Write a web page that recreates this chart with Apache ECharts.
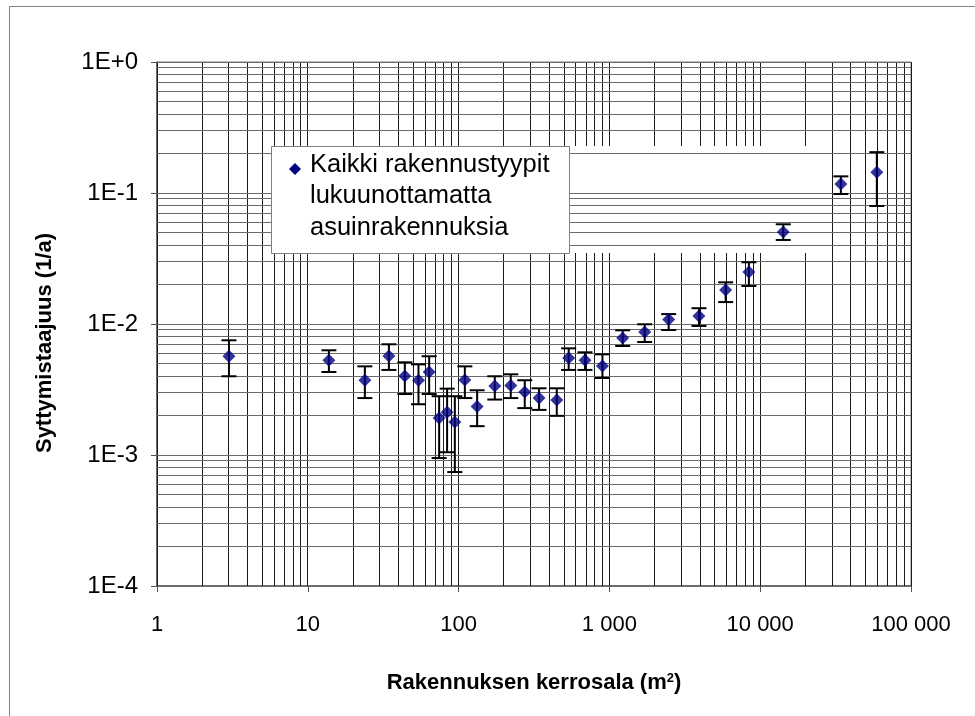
<!DOCTYPE html>
<html><head><meta charset="utf-8">
<script src="https://cdn.jsdelivr.net/npm/echarts@6/dist/echarts.min.js"></script>
<style>html,body{margin:0;padding:0;background:#fff}#c{width:975px;height:716px}</style>
</head><body><div id="c"></div>
<script>
// Floor area (m2) of each class
const areas = [3.0, 13.8, 23.9, 34.5, 44.0, 54.2, 63.8, 74.3, 83.9, 94.4, 110, 132.7, 173.8, 221.8, 274.6, 341.6, 447.7, 537, 689, 899, 1225, 1714, 2472, 3926, 5900, 8413, 14220, 34270, 59340];
// Ignition frequency (1/a)
const freq = [5.67e-3, 5.28e-3, 3.72e-3, 5.70e-3, 4.01e-3, 3.72e-3, 4.30e-3, 1.92e-3, 2.12e-3, 1.79e-3, 3.74e-3, 2.35e-3, 3.36e-3, 3.39e-3, 3.03e-3, 2.72e-3, 2.63e-3, 5.50e-3, 5.28e-3, 4.78e-3, 7.82e-3, 8.69e-3, 1.08e-2, 1.15e-2, 1.82e-2, 2.49e-2, 5.04e-2, 0.117, 0.144];
const freqHigh = [7.51e-3, 6.30e-3, 4.75e-3, 7.0e-3, 5.10e-3, 4.92e-3, 5.67e-3, 2.81e-3, 3.21e-3, 2.81e-3, 4.75e-3, 3.12e-3, 3.99e-3, 4.13e-3, 3.72e-3, 3.23e-3, 3.23e-3, 6.52e-3, 6.08e-3, 5.87e-3, 8.95e-3, 9.95e-3, 1.19e-2, 1.32e-2, 2.08e-2, 2.96e-2, 5.77e-2, 0.134, 0.205];
const freqLow = [3.99e-3, 4.30e-3, 2.72e-3, 4.46e-3, 2.92e-3, 2.44e-3, 2.92e-3, 9.48e-4, 1.05e-3, 7.41e-4, 2.72e-3, 1.66e-3, 2.65e-3, 2.72e-3, 2.28e-3, 2.21e-3, 1.99e-3, 4.46e-3, 4.46e-3, 3.87e-3, 6.79e-3, 7.29e-3, 9.0e-3, 9.66e-3, 1.47e-2, 1.95e-2, 4.38e-2, 9.83e-2, 7.96e-2];

const xTickLabels = ['1', '10', '100', '1 000', '10 000', '100 000'];
const yTickLabels = ['1E-4', '1E-3', '1E-2', '1E-1', '1E+0'];
const seriesName = 'Kaikki rakennustyypit\nlukuunottamatta\nasuinrakennuksia';
const xTitle = 'Rakennuksen kerrosala (m{sup|2})';
const yTitle = 'Syttymistaajuus (1/a)';

const mantissas = [1, 2, 3, 4, 5, 6, 7, 8, 9];
function logGrid(minExp, maxExp) {
  const out = [];
  for (let e = minExp; e < maxExp; e++) {
    mantissas.forEach(m => out.push(m * Math.pow(10, e)));
  }
  out.push(Math.pow(10, maxExp));
  return out;
}
const xGrid = logGrid(0, 5);
const yGrid = logGrid(-4, 0);

const FONT = '"Liberation Sans", Arial, sans-serif';
const chart = echarts.init(document.getElementById('c'));

const crisp = v => Math.round(v - 0.5) + 0.5;

chart.setOption({
  animation: false,
  backgroundColor: '#fff',
  grid: { left: 157, right: 64, top: 62, bottom: 130, show: true, borderColor: '#808080', borderWidth: 1 },
  xAxis: {
    type: 'log', logBase: 10, min: 1, max: 100000,
    splitLine: { show: false },
    axisLine: { lineStyle: { color: '#505050', width: 1.5 } },
    axisTick: { length: 6, lineStyle: { color: '#505050' } },
    axisLabel: {
      margin: 28, fontSize: 22, color: '#000', fontFamily: FONT,
      formatter: v => xTickLabels[Math.round(Math.log10(v))]
    },
    name: xTitle, nameLocation: 'middle', nameGap: 86,
    nameTextStyle: {
      fontSize: 22, fontWeight: 'bold', color: '#000', fontFamily: FONT,
      rich: { sup: { fontSize: 13, fontWeight: 'bold', verticalAlign: 'top', padding: [0, 0, 6, 0], fontFamily: FONT, color: '#000' } }
    }
  },
  yAxis: {
    type: 'log', logBase: 10, min: 0.0001, max: 1,
    splitLine: { show: false },
    axisLine: { lineStyle: { color: '#505050', width: 1.5 } },
    axisTick: { length: 6, lineStyle: { color: '#505050' } },
    axisLabel: {
      margin: 19, fontSize: 24, color: '#000', fontFamily: FONT,
      formatter: v => yTickLabels[Math.round(Math.log10(v)) + 4]
    }
  },
  graphic: [
    { type: 'rect', z: 0, silent: true, shape: { x: 9.5, y: 6.5, width: 1000, height: 800 }, style: { fill: 'none', stroke: '#808080', lineWidth: 1 } },
    { type: 'rect', z: 2, silent: true, shape: { x: 271, y: 146, width: 545, height: 107 }, style: { fill: '#fff' } },
    { type: 'rect', z: 4, silent: true, shape: { x: 271.5, y: 146.5, width: 298, height: 107 }, style: { fill: '#fff', stroke: '#808080', lineWidth: 1 } },
    { type: 'polygon', z: 5, silent: true, shape: { points: [[295, 163], [301, 169], [295, 175], [289, 169]] }, style: { fill: '#000080' } },
    { type: 'text', z: 5, silent: true, x: 310, y: 149, style: { text: seriesName, font: '25.5px ' + FONT, lineHeight: 31.5, fill: '#000' } },
    { type: 'text', z: 5, silent: true, x: 45, y: 343, rotation: Math.PI / 2, style: { text: yTitle, font: 'bold 22px ' + FONT, fill: '#000', align: 'center', verticalAlign: 'middle' } }
  ],
  series: [
    {
      type: 'custom', z: 1, silent: true,
      data: xGrid.map(v => [v, 0.0001]),
      renderItem: (params, api) => {
        const x = api.value(0);
        const a = api.coord([x, 1]);
        const b = api.coord([x, 0.0001]);
        const px = crisp(a[0]);
        return { type: 'line', shape: { x1: px, y1: a[1], x2: px, y2: b[1] }, style: { stroke: '#1a1a1a', lineWidth: 1 } };
      }
    },
    {
      type: 'custom', z: 3, silent: true,
      data: yGrid.map(v => [1, v]),
      renderItem: (params, api) => {
        const y = api.value(1);
        const a = api.coord([1, y]);
        const b = api.coord([100000, y]);
        const py = crisp(a[1]);
        return { type: 'line', shape: { x1: a[0], y1: py, x2: b[0], y2: py }, style: { stroke: '#6a6a6a', lineWidth: 1 } };
      }
    },
    {
      type: 'custom', z: 6, silent: true,
      encode: { x: 0, y: [1, 2] },
      data: areas.map((a, i) => [a, freqLow[i], freqHigh[i]]),
      renderItem: (params, api) => {
        const x = api.value(0);
        const lo = api.coord([x, api.value(1)]);
        const hi = api.coord([x, api.value(2)]);
        const hw = 7.5;
        const st = { stroke: '#000', lineWidth: 2 };
        return {
          type: 'group', children: [
            { type: 'line', shape: { x1: lo[0], y1: lo[1], x2: hi[0], y2: hi[1] }, style: st },
            { type: 'line', shape: { x1: lo[0] - hw, y1: lo[1], x2: lo[0] + hw, y2: lo[1] }, style: st },
            { type: 'line', shape: { x1: hi[0] - hw, y1: hi[1], x2: hi[0] + hw, y2: hi[1] }, style: st }
          ]
        };
      }
    },
    {
      type: 'scatter', z: 7, name: seriesName,
      symbol: 'diamond', symbolSize: 13,
      itemStyle: { color: '#000080' },
      data: areas.map((a, i) => [a, freq[i]])
    }
  ]
});
</script>
</body></html>
